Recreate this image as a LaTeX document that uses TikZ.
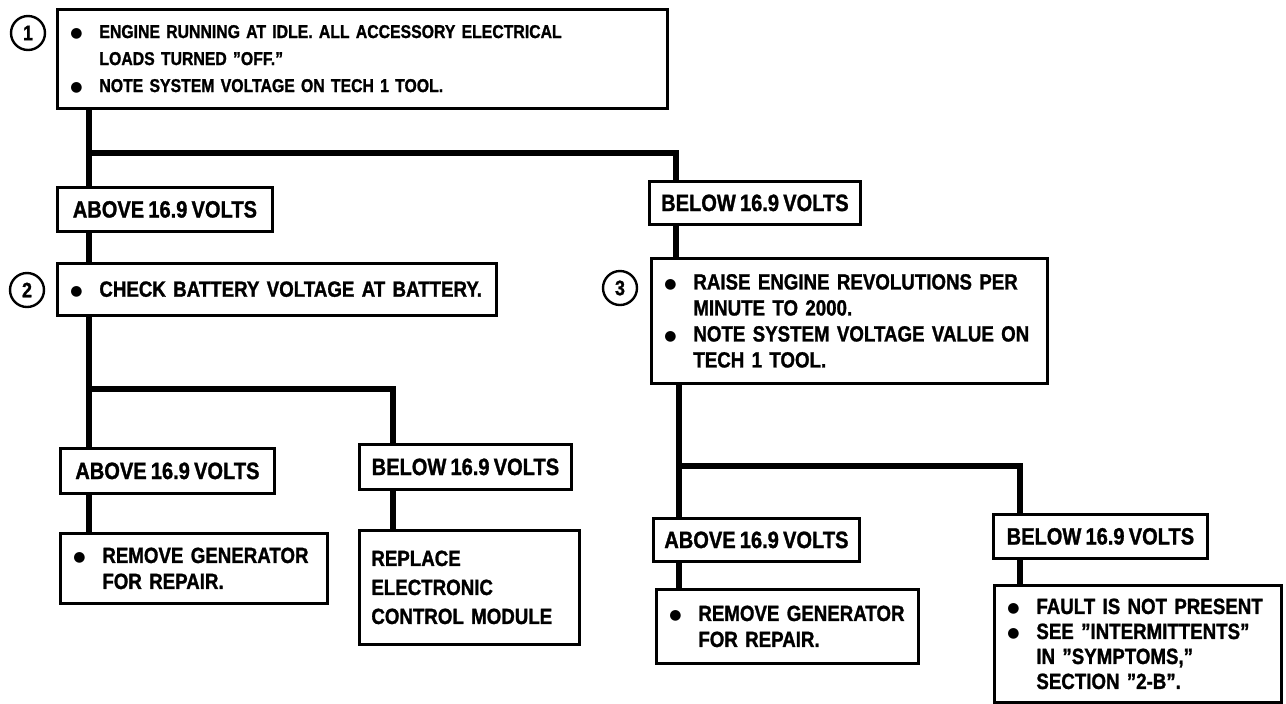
\documentclass[tikz,border=0pt]{standalone}
\usepackage{fontspec}
\setmainfont{Liberation Sans}[FakeStretch=0.85, WordSpace=0.75,
  BoldFeatures={FakeBold=1.2}]
\newfontfamily\dotfont{DejaVu Sans}
\usepackage{tikz}
\usetikzlibrary{positioning}

\newcommand{\bul}{\makebox[14.5pt][l]{\dotfont\fontsize{7}{7}\selectfont\raisebox{0.5pt}{●}}}
\newcommand{\ind}{\hspace*{14.5pt}}

\begin{document}
\begin{tikzpicture}[x=0.5pt, y=-0.5pt,
    box/.style={draw, line width=1.4pt, anchor=north west, align=left,
      inner xsep=6.5pt, inner ysep=0pt, font=\bfseries\fontsize{11}{13}\selectfont},
    lbl/.style={draw, line width=1.4pt, anchor=north west, align=center,
      inner sep=0pt, font=\bfseries\fontsize{11.8}{13}\selectfont},
    num/.style={draw, circle, line width=1.2pt, minimum size=17pt, inner sep=0pt,
      font=\bfseries\fontsize{10.5}{12}\selectfont},
    conn/.style={line width=2.6pt}]
  % page
  \path[use as bounding box, fill=white] (0,0) rectangle (1286,703);

  % step numbers
  \foreach \n/\x/\y in {1/28/33, 2/27/290, 3/620/288}{
    \node[num] (n\n) at (\x,\y) {\n};
  }

  % step 1
  \node[box, text width=292pt, minimum height=49.5pt,
    font=\bfseries\fontsize{9.3}{13.5}\selectfont] (s1) at (56,8)
    {\bul ENGINE RUNNING AT IDLE. ALL ACCESSORY ELECTRICAL\\
     \ind LOADS TURNED "OFF."\\
     \bul NOTE SYSTEM VOLTAGE ON TECH 1 TOOL.};
  \node[lbl, minimum width=107.5pt, minimum height=22pt] (a1) at (56,186) {ABOVE 16.9 VOLTS};
  \node[lbl, minimum width=105.5pt, minimum height=21.5pt] (b1) at (648,180) {BELOW 16.9 VOLTS};

  % step 2
  \node[box, text width=206.5pt, minimum height=26pt] (s2) at (56,262)
    {\bul CHECK BATTERY VOLTAGE AT BATTERY.};
  \node[lbl, minimum width=107pt, minimum height=22.5pt] (a2) at (59,447) {ABOVE 16.9 VOLTS};
  \node[lbl, minimum width=106pt, minimum height=22.5pt] (b2) at (358,443) {BELOW 16.9 VOLTS};
  \node[box, text width=120.5pt, minimum height=35pt] (r1) at (59,532)
    {\bul REMOVE GENERATOR\\
     \ind FOR REPAIR.};
  \node[box, text width=98pt, minimum height=57pt, inner xsep=6pt,
    font=\bfseries\fontsize{11}{14.5}\selectfont] (ecm) at (358,529)
    {REPLACE\\ ELECTRONIC\\ CONTROL MODULE};

  % step 3
  \node[box, text width=185pt, minimum height=62.5pt] (s3) at (650,257)
    {\bul RAISE ENGINE REVOLUTIONS PER\\
     \ind MINUTE TO 2000.\\
     \bul NOTE SYSTEM VOLTAGE VALUE ON\\
     \ind TECH 1 TOOL.};
  \node[lbl, minimum width=103pt, minimum height=21.5pt] (a3) at (652,517) {ABOVE 16.9 VOLTS};
  \node[lbl, minimum width=107pt, minimum height=22pt] (b3) at (992,513) {BELOW 16.9 VOLTS};
  \node[box, text width=118pt, minimum height=37pt] (r2) at (655,588)
    {\bul REMOVE GENERATOR\\
     \ind FOR REPAIR.};
  \node[box, text width=130.5pt, minimum height=58.5pt,
    font=\bfseries\fontsize{11}{12.5}\selectfont] (r3) at (993,584)
    {\bul FAULT IS NOT PRESENT\\
     \bul SEE "INTERMITTENTS"\\
     \ind IN "SYMPTOMS,"\\
     \ind SECTION "2-B".};

  % branch points
  \coordinate (j1) at (89,153);
  \coordinate (j1r) at (676,153);
  \coordinate (j2) at (89,389);
  \coordinate (j2r) at (393,389);
  \coordinate (j3) at (679,466);
  \coordinate (j3r) at (1020,466);

  % connectors
  \draw[conn] (s1.south -| j1) -- (a1.north -| j1);
  \draw[conn] (j1) -- (j1r) -- (b1.north -| j1r);
  \draw[conn] (a1.south -| j1) -- (s2.north -| j1);
  \draw[conn] (b1.south -| j1r) -- (s3.north -| j1r);

  \draw[conn] (s2.south -| j2) -- (a2.north -| j2);
  \draw[conn] (j2) -- (j2r) -- (b2.north -| j2r);
  \draw[conn] (a2.south -| j2) -- (r1.north -| j2);
  \draw[conn] (b2.south -| j2r) -- (ecm.north -| j2r);

  \draw[conn] (s3.south -| j3) -- (a3.north -| j3);
  \draw[conn] (j3) -- (j3r) -- (b3.north -| j3r);
  \draw[conn] (a3.south -| j3) -- (r2.north -| j3);
  \draw[conn] (b3.south -| j3r) -- (r3.north -| j3r);
\end{tikzpicture}
\end{document}
